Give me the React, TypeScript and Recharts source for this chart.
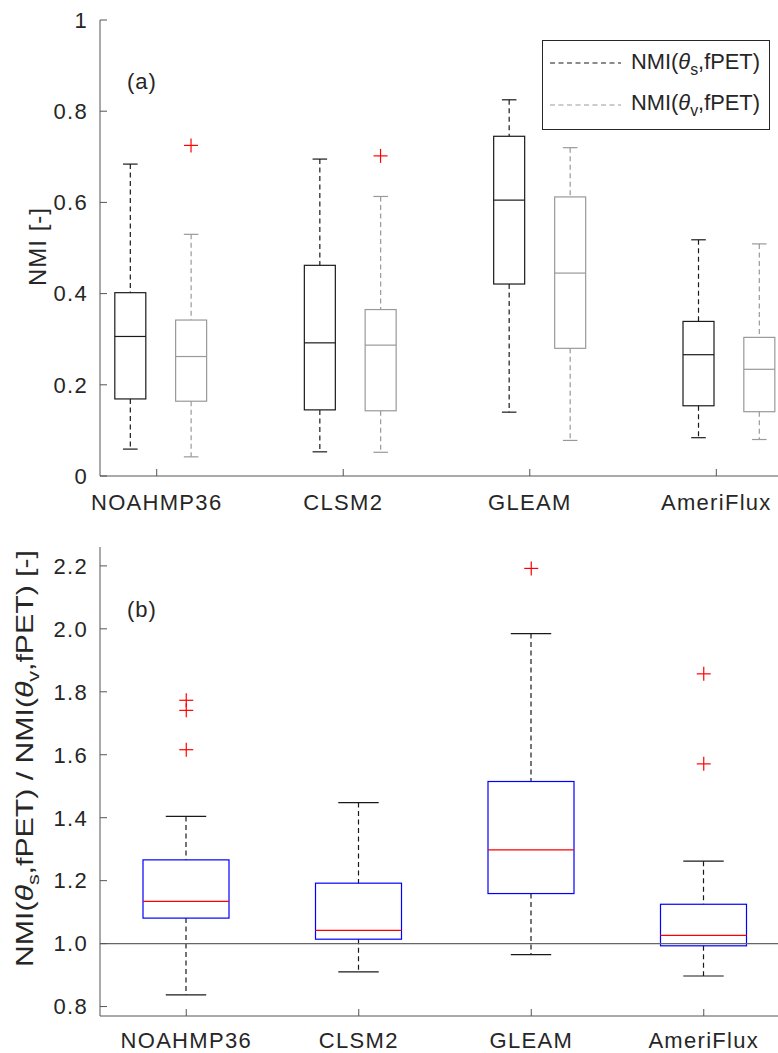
import React from 'react';
import {
  ComposedChart,
  Bar,
  Scatter,
  XAxis,
  YAxis,
  ReferenceLine,
  Customized,
} from 'recharts';

// ---------- data ----------
const categories = ['NOAHMP36', 'CLSM2', 'GLEAM', 'AmeriFlux'];
const categoryTicks = [1, 2, 3, 4];

// Panel (a): NMI(theta_s, fPET) – black boxes
const soilPos = [0.858, 1.874, 2.889, 3.904];
const soilMin = [0.059, 0.053, 0.140, 0.084];
const soilQ1 = [0.169, 0.145, 0.421, 0.154];
const soilMed = [0.306, 0.292, 0.605, 0.266];
const soilQ3 = [0.402, 0.462, 0.745, 0.339];
const soilMax = [0.684, 0.695, 0.825, 0.518];

// Panel (a): NMI(theta_v, fPET) – gray boxes
const vegPos = [1.184, 2.2, 3.216, 4.23];
const vegMin = [0.042, 0.052, 0.078, 0.080];
const vegQ1 = [0.164, 0.143, 0.280, 0.141];
const vegMed = [0.262, 0.287, 0.445, 0.234];
const vegQ3 = [0.342, 0.365, 0.612, 0.304];
const vegMax = [0.530, 0.613, 0.720, 0.509];
const vegOutlierPos = [1.184, 2.2];
const vegOutlierVal = [0.725, 0.702];

// Panel (b): ratio
const ratioPos = [1, 2, 3, 4];
const ratioMin = [0.837, 0.910, 0.965, 0.897];
const ratioQ1 = [1.081, 1.014, 1.159, 0.993];
const ratioMed = [1.134, 1.042, 1.298, 1.026];
const ratioQ3 = [1.266, 1.192, 1.515, 1.125];
const ratioMax = [1.404, 1.448, 1.985, 1.262];
const ratioOutlierPos = [1, 1, 1, 3, 4, 4];
const ratioOutlierVal = [1.773, 1.741, 1.616, 2.192, 1.857, 1.571];

const yTicksA = [0, 0.2, 0.4, 0.6, 0.8, 1];
const yTicksB = [0.8, 1.0, 1.2, 1.4, 1.6, 1.8, 2.0, 2.2];
const domainXA: [number, number] = [0.696, 4.395];
const domainXB: [number, number] = [0.5, 4.5];
const domainYA: [number, number] = [0, 1];
const domainYB: [number, number] = [0.77, 2.26];

// ---------- styles ----------
const FONT = '"Liberation Sans", Arial, Helvetica, sans-serif';
const AXIS_COLOR = '#555555';
const TEXT_COLOR = '#262626';
const DASH = '5 3.5';

const boxStyles: Record<string, { box: string; median: string; whisker: string; cap: string }> = {
  soil: { box: '#1a1a1a', median: '#1a1a1a', whisker: '#1a1a1a', cap: '#1a1a1a' },
  veg: { box: '#999999', median: '#999999', whisker: '#999999', cap: '#999999' },
  ratio: { box: '#0000ff', median: '#ff0000', whisker: '#1a1a1a', cap: '#1a1a1a' },
};

const buildRows = (
  group: string,
  pos: number[],
  mn: number[],
  q1: number[],
  med: number[],
  q3: number[],
  mx: number[]
) =>
  pos.map((p, i) => ({
    group,
    pos: p,
    min: mn[i],
    q1: q1[i],
    med: med[i],
    q3: q3[i],
    max: mx[i],
    range: [mn[i], mx[i]],
  }));

const panelARows = [
  ...buildRows('soil', soilPos, soilMin, soilQ1, soilMed, soilQ3, soilMax),
  ...buildRows('veg', vegPos, vegMin, vegQ1, vegMed, vegQ3, vegMax),
];
const panelBRows = buildRows('ratio', ratioPos, ratioMin, ratioQ1, ratioMed, ratioQ3, ratioMax);
const outliersA = vegOutlierPos.map((p, i) => ({ pos: p, value: vegOutlierVal[i] }));
const outliersB = ratioOutlierPos.map((p, i) => ({ pos: p, value: ratioOutlierVal[i] }));

// ---------- shapes ----------
const BoxShape = (props: any) => {
  const { x, y, width, height } = props;
  const d = props.payload ?? props;
  if (x == null || y == null || d == null || d.max == null) return null;
  const st = boxStyles[d.group] ?? boxStyles.soil;
  const span = d.max - d.min;
  const k = span > 0 ? height / span : 0;
  const py = (v: number) => y + (d.max - v) * k;
  const cx = x + width / 2;
  const capHalf = (width * 0.47) / 2;
  const sw = 1.2;
  return (
    <g>
      <line x1={cx} x2={cx} y1={py(d.max)} y2={py(d.q3)} stroke={st.whisker} strokeWidth={sw} strokeDasharray={DASH} />
      <line x1={cx} x2={cx} y1={py(d.q1)} y2={py(d.min)} stroke={st.whisker} strokeWidth={sw} strokeDasharray={DASH} />
      <line x1={cx - capHalf} x2={cx + capHalf} y1={py(d.max)} y2={py(d.max)} stroke={st.cap} strokeWidth={sw} />
      <line x1={cx - capHalf} x2={cx + capHalf} y1={py(d.min)} y2={py(d.min)} stroke={st.cap} strokeWidth={sw} />
      <rect x={x} y={py(d.q3)} width={width} height={py(d.q1) - py(d.q3)} fill="none" stroke={st.box} strokeWidth={sw} />
      <line x1={x} x2={x + width} y1={py(d.med)} y2={py(d.med)} stroke={st.median} strokeWidth={sw} />
    </g>
  );
};

const PlusShape = (props: any) => {
  const { cx, cy } = props;
  if (cx == null || cy == null) return null;
  const h = 7;
  return (
    <g>
      <line x1={cx - h} x2={cx + h} y1={cy} y2={cy} stroke="#ff0000" strokeWidth={1.2} />
      <line x1={cx} x2={cx} y1={cy - h} y2={cy + h} stroke="#ff0000" strokeWidth={1.2} />
    </g>
  );
};

const catFmt = (v: number) => categories[Math.round(v) - 1] ?? '';
const tickStyle = { fontSize: 22, fill: TEXT_COLOR, fontFamily: FONT, letterSpacing: 1.3 };
const EmptyTick = () => <g />;

// ---------- overlays ----------
const legendLabels = ['s', 'v'];
const legendColors = ['#1a1a1a', '#999999'];

const PanelAOverlay = () => (
  <g fontFamily={FONT} fill={TEXT_COLOR}>
    <text x={127} y={89} fontSize={22} letterSpacing={1}>(a)</text>
    <rect x={542.5} y={40.5} width={227} height={89} fill="#ffffff" stroke="#262626" strokeWidth={1} />
    {legendLabels.map((sub, i) => (
      <g key={sub}>
        <line x1={550} x2={621} y1={63 + i * 42} y2={63 + i * 42} stroke={legendColors[i]} strokeWidth={1.2} strokeDasharray={DASH} />
        <text x={631} y={69 + i * 41} fontSize={22} textLength={129} lengthAdjust="spacingAndGlyphs">
          NMI(<tspan fontStyle="italic">θ</tspan>
          <tspan fontSize={16} dy={6}>{sub}</tspan>
          <tspan dy={-6}>,fPET)</tspan>
        </text>
      </g>
    ))}
  </g>
);

const PanelBOverlay = () => (
  <g fontFamily={FONT} fill={TEXT_COLOR}>
    <text x={127} y={97} fontSize={22} letterSpacing={1}>(b)</text>
  </g>
);

const YLabelA = (props: any) => {
  const vb = props.viewBox ?? { x: 0, y: 20, width: 100, height: 456 };
  const cx = 46;
  const cy = vb.y + vb.height / 2 - 1;
  return (
    <text
      x={cx}
      y={cy}
      transform={`rotate(-90, ${cx}, ${cy})`}
      textAnchor="middle"
      fontSize={24}
      fontFamily={FONT}
      fill={TEXT_COLOR}
      textLength={78}
      lengthAdjust="spacing"
    >
      NMI [-]
    </text>
  );
};

const YLabelB = (props: any) => {
  const vb = props.viewBox ?? { x: 0, y: 27, width: 100, height: 469 };
  const cx = 33;
  const cy = vb.y + vb.height / 2 - 23;
  return (
    <text
      x={cx}
      y={cy}
      transform={`rotate(-90, ${cx}, ${cy})`}
      textAnchor="middle"
      fontSize={24}
      fontFamily={FONT}
      fill={TEXT_COLOR}
      textLength={417}
      lengthAdjust="spacingAndGlyphs"
    >
      NMI(<tspan fontStyle="italic">θ</tspan>
      <tspan fontSize={17} dy={6}>s</tspan>
      <tspan dy={-6}>,fPET) / NMI(</tspan>
      <tspan fontStyle="italic">θ</tspan>
      <tspan fontSize={17} dy={6}>v</tspan>
      <tspan dy={-6}>,fPET) [-]</tspan>
    </text>
  );
};

// ---------- panels ----------
function PanelA() {
  return (
    <ComposedChart width={790} height={520} data={panelARows} margin={{ top: 20, right: 0, bottom: 4, left: 0 }}>
      <XAxis
        dataKey="pos"
        type="number"
        domain={domainXA}
        allowDataOverflow
        ticks={categoryTicks}
        interval={0}
        tickFormatter={catFmt}
        height={40}
        tickSize={-7}
        tickMargin={25}
        stroke={AXIS_COLOR}
        tick={tickStyle}
      />
      <XAxis
        xAxisId="top"
        orientation="top"
        dataKey="pos"
        type="number"
        domain={domainXA}
        allowDataOverflow
        ticks={categoryTicks}
        interval={0}
        height={0}
        tickSize={-7}
        stroke={AXIS_COLOR}
        tick={EmptyTick}
      />
      <YAxis
        type="number"
        domain={domainYA}
        allowDataOverflow
        ticks={yTicksA}
        interval={0}
        tickFormatter={(v: number) => String(v)}
        width={100}
        tickSize={-7}
        tickMargin={19}
        stroke={AXIS_COLOR}
        tick={tickStyle}
        label={{ content: YLabelA }}
      />
      <Bar dataKey="range" barSize={31} shape={BoxShape} isAnimationActive={false} />
      <Scatter data={outliersA} dataKey="value" shape={PlusShape} isAnimationActive={false} />
      <Customized component={PanelAOverlay} />
    </ComposedChart>
  );
}

function PanelB() {
  return (
    <ComposedChart width={790} height={533} data={panelBRows} margin={{ top: 27, right: 0, bottom: 7, left: 0 }}>
      <XAxis
        dataKey="pos"
        type="number"
        domain={domainXB}
        allowDataOverflow
        ticks={categoryTicks}
        interval={0}
        tickFormatter={catFmt}
        height={30}
        tickSize={-7}
        tickMargin={23}
        stroke={AXIS_COLOR}
        tick={tickStyle}
      />
      <XAxis
        xAxisId="top"
        orientation="top"
        dataKey="pos"
        type="number"
        domain={domainXB}
        allowDataOverflow
        ticks={categoryTicks}
        interval={0}
        height={0}
        tickSize={-7}
        stroke={AXIS_COLOR}
        tick={EmptyTick}
      />
      <YAxis
        type="number"
        domain={domainYB}
        allowDataOverflow
        ticks={yTicksB}
        interval={0}
        tickFormatter={(v: number) => v.toFixed(1)}
        width={100}
        tickSize={-7}
        tickMargin={19}
        stroke={AXIS_COLOR}
        tick={tickStyle}
        label={{ content: YLabelB }}
      />
      <ReferenceLine y={1} stroke="#666666" strokeWidth={1.2} />
      <Bar dataKey="range" barSize={86} shape={BoxShape} isAnimationActive={false} />
      <Scatter data={outliersB} dataKey="value" shape={PlusShape} isAnimationActive={false} />
      <Customized component={PanelBOverlay} />
    </ComposedChart>
  );
}

export default function App() {
  return (
    <div style={{ position: 'absolute', left: 0, top: 0, width: 778, height: 1053, overflow: 'hidden', background: '#ffffff' }}>
      <div style={{ position: 'absolute', left: 0, top: 0 }}>
        <PanelA />
      </div>
      <div style={{ position: 'absolute', left: 0, top: 520 }}>
        <PanelB />
      </div>
    </div>
  );
}
